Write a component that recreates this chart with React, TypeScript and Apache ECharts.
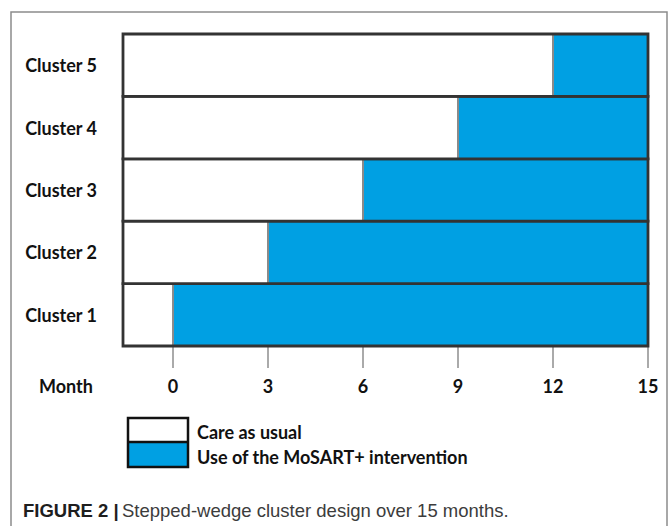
import React, { useEffect, useRef } from "react";
import * as echarts from "echarts";

const clusters = ["Cluster 1", "Cluster 2", "Cluster 3", "Cluster 4", "Cluster 5"];
const interventionStart = [0, 3, 6, 9, 12];
const studyEnd = 15;
const axisMin = -1.58;
const monthTicks = [0, 3, 6, 9, 12, 15];
const legendLabels = ["Care as usual", "Use of the MoSART+ intervention"];
const axisTitle = "Month";
const captionBold = "FIGURE 2 |";
const captionText = "Stepped-wedge cluster design over 15 months.";

const BLUE = "#00a0e3";
const FONT = "Lato, 'Open Sans', sans-serif";

export default function App() {
  const ref = useRef<HTMLDivElement>(null);
  useEffect(() => {
    if (!ref.current) return;
    const chart = echarts.init(ref.current, undefined, { renderer: "svg" });
    const data = clusters.map((c, i) => [i, axisMin, interventionStart[i], studyEnd]);
    chart.setOption({
      animation: false,
      backgroundColor: "#ffffff",
      grid: { left: 123, right: 22, top: 34, bottom: 180 },
      xAxis: {
        type: "value",
        min: axisMin,
        max: studyEnd,
        splitLine: { show: false },
        axisLine: { show: false },
        axisTick: {
          show: true,
          customValues: monthTicks,
          length: 22,
          lineStyle: { color: "#aaaaaa", width: 2 },
        },
        axisLabel: {
          customValues: monthTicks,
          margin: 31,
          fontFamily: FONT,
          fontWeight: "bold",
          fontSize: 18,
          color: "#111111",
        },
      },
      yAxis: {
        type: "category",
        data: clusters,
        axisLine: { show: false },
        axisTick: { show: false },
        axisLabel: {
          margin: 26,
          fontFamily: FONT,
          fontWeight: "bold",
          fontSize: 18,
          color: "#111111",
        },
      },
      series: [
        {
          type: "custom",
          data,
          encode: { x: [1, 2, 3], y: 0 },
          clip: false,
          renderItem: (params: any, api: any) => {
            const cat = api.value(0);
            const a = api.coord([api.value(1), cat]);
            const b = api.coord([api.value(2), cat]);
            const c = api.coord([api.value(3), cat]);
            const h = api.size([0, 1])[1];
            const y = a[1] - h / 2;
            return {
              type: "group",
              children: [
                { type: "rect", shape: { x: a[0], y, width: b[0] - a[0], height: h }, style: { fill: "#ffffff" } },
                { type: "rect", shape: { x: b[0], y, width: c[0] - b[0], height: h }, style: { fill: BLUE } },
                { type: "line", shape: { x1: b[0], y1: y, x2: b[0], y2: y + h }, style: { stroke: "#8a8a8a", lineWidth: 2 } },
                { type: "rect", shape: { x: a[0], y, width: c[0] - a[0], height: h }, style: { fill: "none", stroke: "#333333", lineWidth: 2.8 } },
              ],
            };
          },
        },
      ],
      graphic: [
        { type: "rect", shape: { x: 11, y: 12, width: 656, height: 540 }, style: { fill: "none", stroke: "#8c8c8c", lineWidth: 1.5 } },
        { type: "text", x: 39, y: 386, style: { text: axisTitle, font: `bold 18px ${FONT}`, fill: "#111111", verticalAlign: "middle" } },
        { type: "rect", shape: { x: 128, y: 418, width: 60, height: 24 }, style: { fill: "#ffffff" } },
        { type: "rect", shape: { x: 128, y: 442, width: 60, height: 25 }, style: { fill: BLUE } },
        { type: "rect", shape: { x: 128, y: 418, width: 60, height: 49 }, style: { fill: "none", stroke: "#111111", lineWidth: 2.5 } },
        { type: "line", shape: { x1: 128, y1: 442, x2: 188, y2: 442 }, style: { stroke: "#111111", lineWidth: 2.5 } },
        { type: "text", x: 197, y: 432, style: { text: legendLabels[0], font: `bold 18px ${FONT}`, fill: "#111111", verticalAlign: "middle" } },
        { type: "text", x: 197, y: 457, style: { text: legendLabels[1], font: `bold 18px ${FONT}`, fill: "#111111", verticalAlign: "middle" } },
        {
          type: "text",
          x: 23,
          y: 510,
          style: {
            text: `{b|${captionBold}} {n|${captionText}}`,
            verticalAlign: "middle",
            rich: {
              b: { fontFamily: "'Liberation Sans', Arial, sans-serif", fontWeight: "bold", fontSize: 18.5, fill: "#1e1e1e" },
              n: { fontFamily: "'Liberation Sans', Arial, sans-serif", fontSize: 18.5, fill: "#3c3c3c" },
            },
          },
        },
      ],
    });
    return () => chart.dispose();
  }, []);
  return <div ref={ref} style={{ position: "fixed", left: 0, top: 0, width: 670, height: 526 }} />;
}
